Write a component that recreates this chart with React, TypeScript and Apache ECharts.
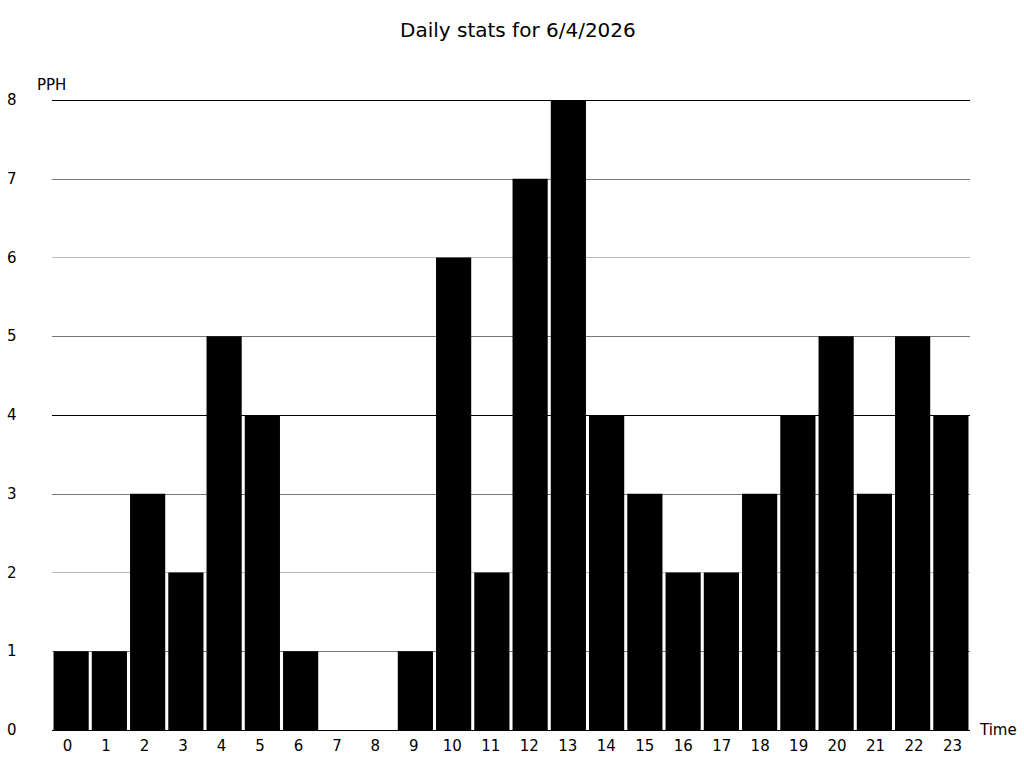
import React, { useEffect, useRef } from "react";
import * as echarts from "echarts";

const hours = ["0","1","2","3","4","5","6","7","8","9","10","11","12","13","14","15","16","17","18","19","20","21","22","23"];
const pph = [1, 1, 3, 2, 5, 4, 1, 0, 0, 1, 6, 2, 7, 8, 4, 3, 2, 2, 3, 4, 5, 3, 5, 4];
const titleText = "Daily stats for 6/4/2026";

export default function App() {
  const ref = useRef<HTMLDivElement>(null);
  useEffect(() => {
    const chart = echarts.init(ref.current!, null, { renderer: "svg" });
    const font = "DejaVu Sans";
    chart.setOption({
      animation: false,
      backgroundColor: "#fff",
      title: {
        text: titleText,
        left: 395,
        top: 15,
        textStyle: { fontFamily: font, fontSize: 20, fontWeight: "normal", color: "#000" },
      },
      grid: [
        { left: 52, right: 54, top: 100, bottom: 38 },
        { left: 48.3, right: 52.2, top: 100, bottom: 38 },
      ],
      xAxis: [
        {
          type: "category",
          data: hours,
          gridIndex: 0,
          name: "Time",
          nameLocation: "end",
          nameGap: 10,
          nameTextStyle: { fontFamily: font, fontSize: 15, color: "#000", padding: [2, 0, 0, 0] },
          axisLine: { show: false },
          axisTick: { show: false },
          axisLabel: { show: false },
        },
        {
          type: "category",
          data: hours,
          gridIndex: 1,
          axisLine: { show: false },
          axisTick: { show: false },
          axisLabel: { fontFamily: font, fontSize: 15, color: "#000", margin: 8 },
        },
      ],
      yAxis: [
        {
          type: "value",
          gridIndex: 0,
          min: 0,
          max: 8,
          interval: 1,
          name: "PPH",
          nameLocation: "end",
          nameGap: 8,
          nameTextStyle: { fontFamily: font, fontSize: 15, color: "#000", align: "left", padding: [0, 0, 0, -15] },
          axisLine: { show: false },
          axisTick: { show: false },
          axisLabel: { fontFamily: font, fontSize: 15, color: "#000", margin: 45, align: "left" },
          splitLine: {
            show: true,
            lineStyle: { color: ["#000", "#777", "#bbb", "#777"], width: 1 },
          },
        },
        {
          type: "value",
          gridIndex: 1,
          min: 0,
          max: 8,
          show: false,
          splitLine: { show: false },
        },
      ],
      series: [
        {
          type: "bar",
          data: pph,
          xAxisIndex: 0,
          yAxisIndex: 0,
          barCategoryGap: "8%",
          itemStyle: { color: "#000" },
        },
      ],
    });
    return () => chart.dispose();
  }, []);
  return <div ref={ref} style={{ width: 1024, height: 768, position: "absolute", left: 0, top: 0 }} />;
}
